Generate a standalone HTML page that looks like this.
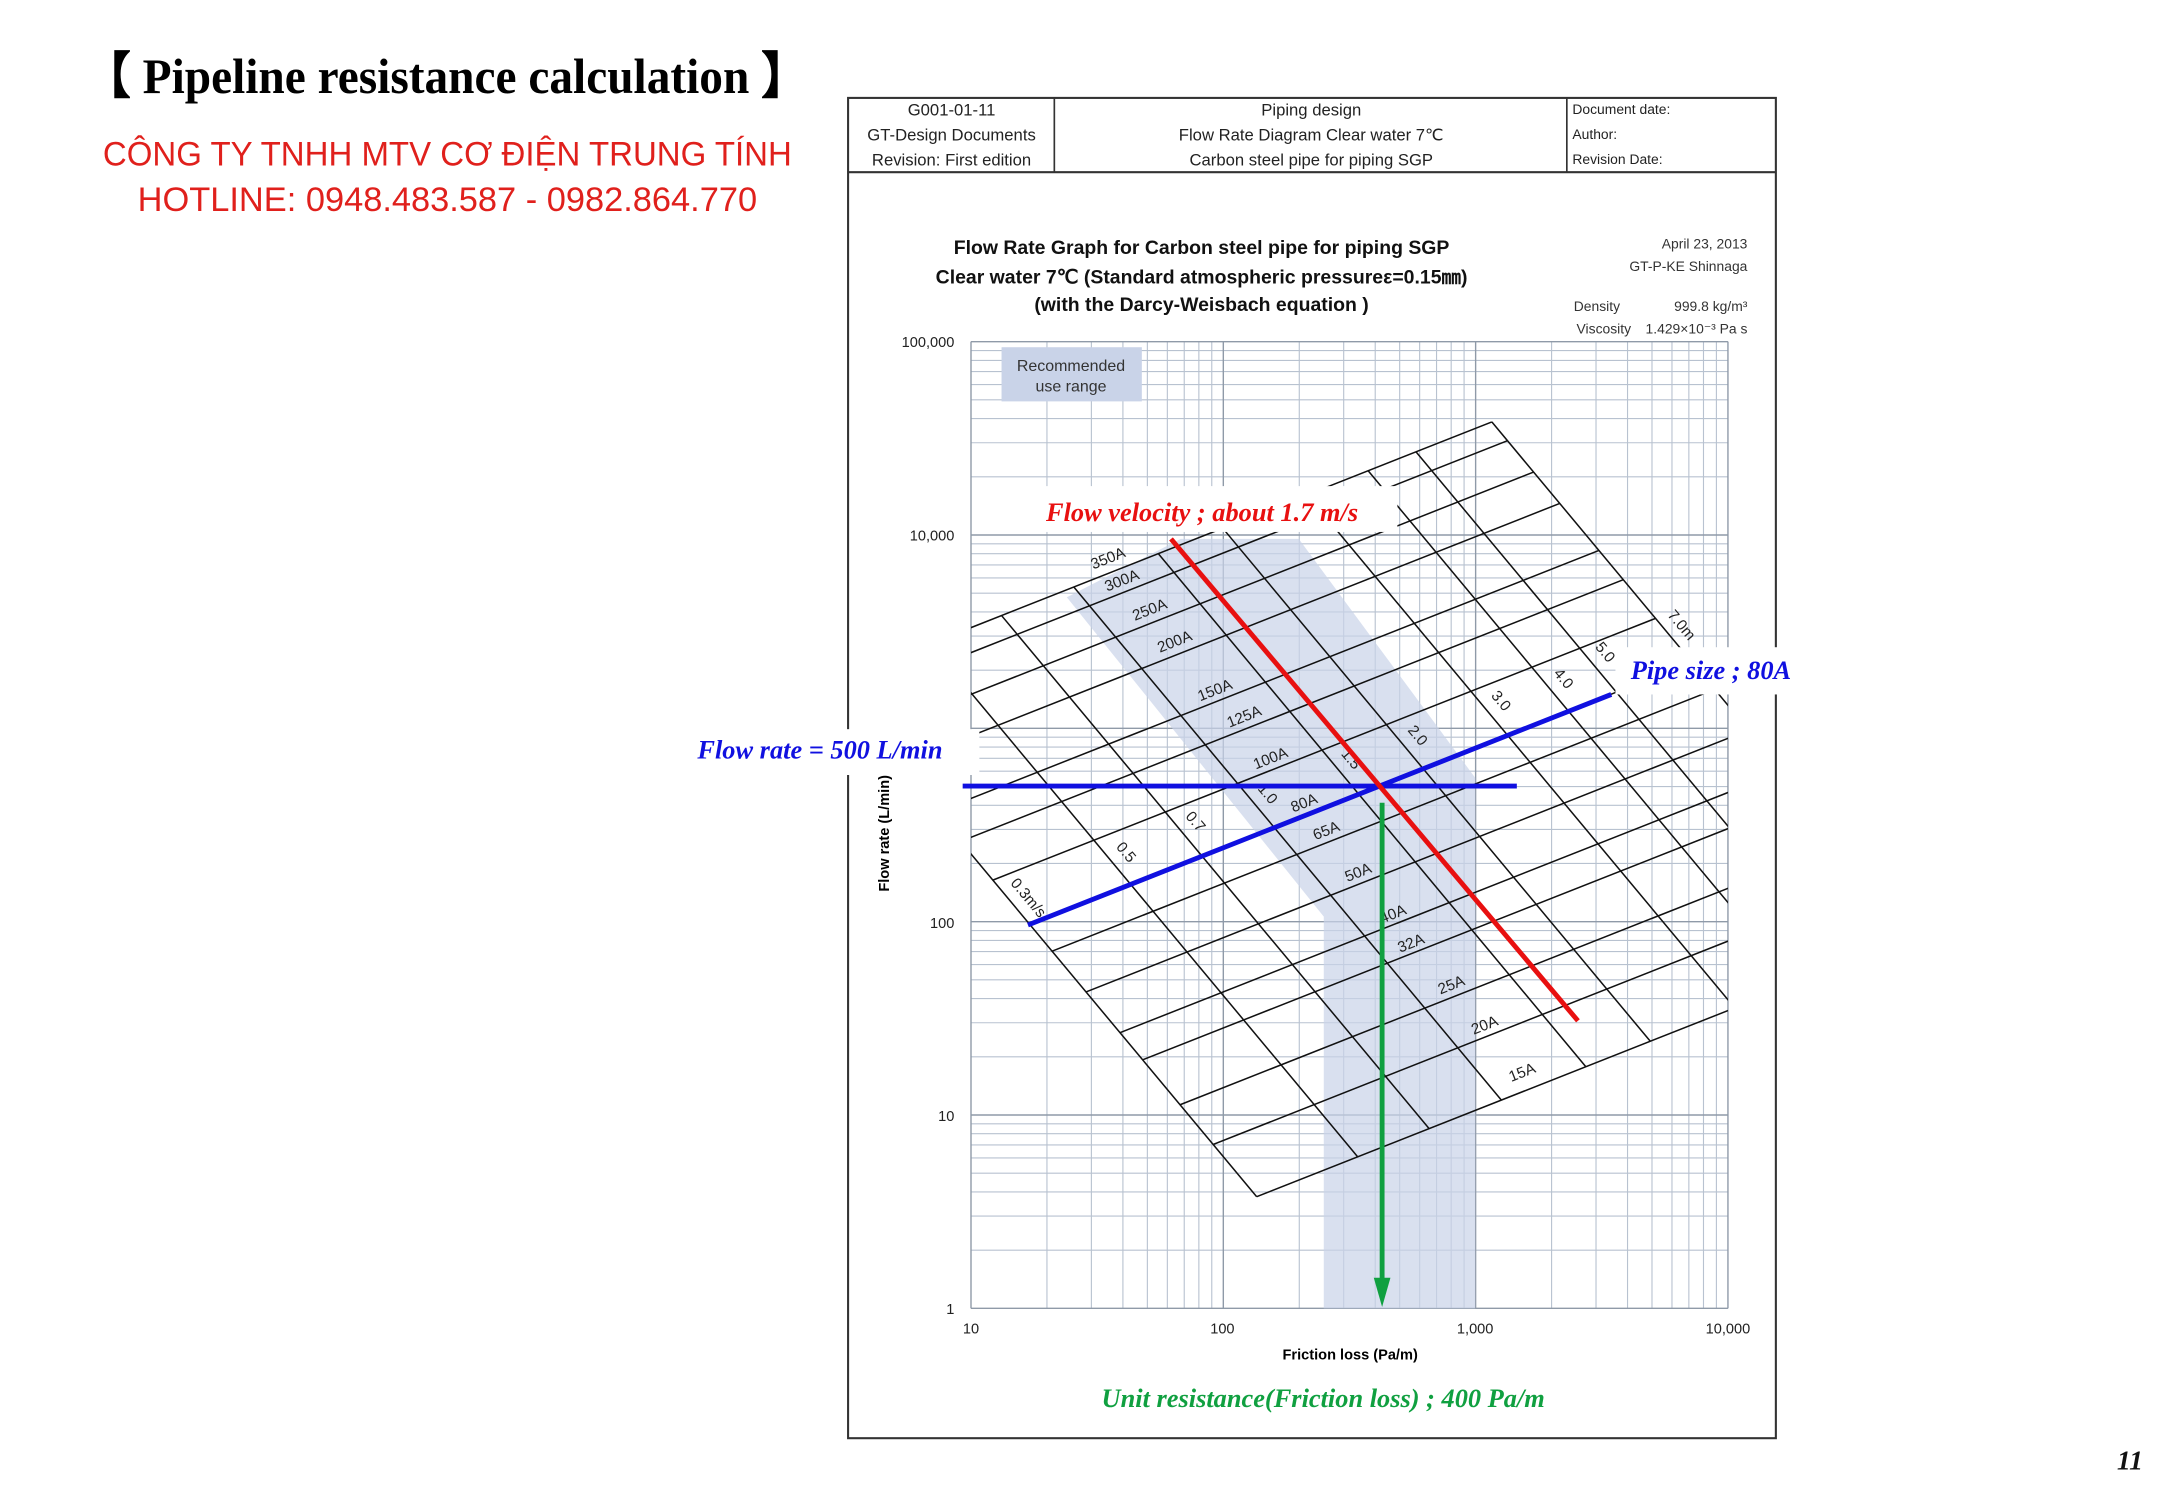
<!DOCTYPE html>
<html><head><meta charset="utf-8"><style>
html,body{margin:0;padding:0;background:#fff;width:2167px;height:1500px;overflow:hidden}
svg{display:block}
</style></head><body>
<svg id="s" width="2167" height="1500" viewBox="0 0 1560 1080" xmlns="http://www.w3.org/2000/svg" font-family="Liberation Sans, sans-serif">
<rect width="1560" height="1080" fill="#fff"/>
<text x="60" y="67" font-family="Liberation Serif, serif" font-weight="bold" font-size="36" textLength="522" lengthAdjust="spacingAndGlyphs">【 Pipeline resistance calculation 】</text>
<text x="322" y="119" fill="#e0201c" font-size="25" text-anchor="middle" textLength="496" lengthAdjust="spacingAndGlyphs">CÔNG TY TNHH MTV CƠ ĐIỆN TRUNG TÍNH</text>
<text x="322" y="152" fill="#e0201c" font-size="25" text-anchor="middle" textLength="446" lengthAdjust="spacingAndGlyphs">HOTLINE: 0948.483.587 - 0982.864.770</text>

<rect x="610.5" y="70.5" width="668" height="965" fill="none" stroke="#333" stroke-width="1.5"/>
<line x1="610" y1="124" x2="1278" y2="124" stroke="#333" stroke-width="1.5"/>
<line x1="759" y1="70" x2="759" y2="124" stroke="#333" stroke-width="1.2"/>
<line x1="1128" y1="70" x2="1128" y2="124" stroke="#333" stroke-width="1.2"/>
<g font-size="12" fill="#222">
<text x="685" y="83" text-anchor="middle">G001-01-11</text>
<text x="685" y="101" text-anchor="middle">GT-Design Documents</text>
<text x="685" y="119" text-anchor="middle">Revision:   First edition</text>
<text x="944" y="83" text-anchor="middle">Piping design</text>
<text x="944" y="101" text-anchor="middle">Flow Rate Diagram     Clear water    7℃</text>
<text x="944" y="119" text-anchor="middle">Carbon steel pipe for piping   SGP</text>
<text x="1132" y="82" font-size="10">Document date:</text>
<text x="1132" y="100" font-size="10">Author:</text>
<text x="1132" y="118" font-size="10">Revision Date:</text>
</g>
<g font-size="14" font-weight="bold" fill="#111" text-anchor="middle">
<text x="865" y="183">Flow Rate Graph for Carbon steel pipe for piping  SGP</text>
<text x="865" y="204">Clear water    7℃    (Standard atmospheric pressureε=0.15㎜)</text>
<text x="865" y="224">(with the Darcy-Weisbach equation )</text>
</g>
<g font-size="10" fill="#333" text-anchor="end">
<text x="1258" y="179">April 23, 2013</text>
<text x="1258" y="195">GT-P-KE  Shinnaga</text>
<text x="1258" y="224">999.8 kg/m³</text>
<text x="1258" y="240">1.429×10⁻³ Pa s</text>
</g>
<text x="1133" y="224" font-size="10" fill="#333">Density</text>
<text x="1135" y="240" font-size="10" fill="#333">Viscosity</text>

<g id="grid"></g>
<rect x="721" y="250" width="101" height="39" fill="#c9d3e8"/>
<text x="771" y="267" font-size="11.5" fill="#333" text-anchor="middle">Recommended</text>
<text x="771" y="282" font-size="11.5" fill="#333" text-anchor="middle">use range</text>
<polygon points="768,430 850,388 935,388 1062,560 1062,942 953,942 953,660" fill="#c9d3e8" opacity="0.7"/>
<defs><clipPath id="cp"><rect x="699" y="246" width="545" height="696"/></clipPath></defs>
<g id="nomo" clip-path="url(#cp)" stroke="#111" stroke-width="1.1"></g>
<g font-size="11" fill="#222" id="lbl"></g>

<g font-size="10.5" fill="#222" text-anchor="end">
<text x="687" y="250">100,000</text><text x="687" y="389">10,000</text>
<text x="687" y="668">100</text><text x="687" y="807">10</text><text x="687" y="946">1</text>
</g>
<g font-size="10.5" fill="#222" text-anchor="middle">
<text x="699" y="960">10</text><text x="880" y="960">100</text><text x="1062" y="960">1,000</text><text x="1244" y="960">10,000</text>
</g>
<text x="972" y="979" font-size="10.5" font-weight="bold" text-anchor="middle">Friction loss (Pa/m)</text>
<text transform="translate(640,600) rotate(-90)" font-size="10.5" font-weight="bold" text-anchor="middle">Flow rate (L/min)</text>

<rect x="700" y="350" width="306" height="33" fill="#fff"/>
<rect x="1163" y="466" width="150" height="34" fill="#fff"/>
<rect x="495" y="525" width="210" height="33" fill="#fff"/>
<line x1="693" y1="566" x2="1092" y2="566" stroke="#1010e0" stroke-width="3.5"/>
<line x1="740" y1="666" x2="1160" y2="500" stroke="#1010e0" stroke-width="3.5"/>
<line x1="843" y1="388" x2="1136" y2="735" stroke="#e81010" stroke-width="3.5"/>
<line x1="995" y1="578" x2="995" y2="925" stroke="#10a040" stroke-width="3.5"/>
<polygon points="989,920 1001,920 995,941" fill="#10a040"/>
<g font-family="Liberation Serif, serif" font-weight="bold" font-style="italic" font-size="19">
<text x="753" y="375" fill="#e81010">Flow velocity ; about 1.7 m/s</text>
<text x="1174" y="489" fill="#1010e0">Pipe size ; 80A</text>
<text x="502" y="546" fill="#1010e0">Flow rate = 500 L/min</text>
<text x="793" y="1013" fill="#10a040">Unit resistance(Friction loss) ; 400 Pa/m</text>
<text x="1524" y="1058" fill="#111" font-size="20">11</text>
</g>
</svg>
<script>
var NS="http://www.w3.org/2000/svg";
function L(g,x1,y1,x2,y2,c,w){var l=document.createElementNS(NS,"line");l.setAttribute("x1",x1);l.setAttribute("y1",y1);l.setAttribute("x2",x2);l.setAttribute("y2",y2);if(c)l.setAttribute("stroke",c);if(w)l.setAttribute("stroke-width",w);g.appendChild(l);}
var g=document.getElementById("grid");
var X0=699,X1=1244,Y0=942,Y1=246,dx=(X1-X0)/3,dy=(Y0-Y1)/5;
for(var d=0;d<5;d++)for(var k=2;k<=9;k++){var y=Y0-(d+Math.log10(k))*dy;L(g,X0,y,X1,y,"#b8c2d0",0.8);}
for(var d=0;d<3;d++)for(var k=2;k<=9;k++){var x=X0+(d+Math.log10(k))*dx;L(g,x,Y1,x,Y0,"#b8c2d0",0.8);}
for(var d=0;d<=5;d++){var y=Y0-d*dy;L(g,X0,y,X1,y,"#8f9aa8",1);}
for(var d=0;d<=3;d++){var x=X0+d*dx;L(g,x,Y1,x,Y0,"#8f9aa8",1);}
var n=document.getElementById("nomo");
var B=[728,746,776,806,851,879,916,958,984,1023,1062,1088,1131,1169,1219];
var C=[-224,-340,-422,-505,-602,-676,-773,-843,-898,-985];
var s1=0.395,s2=1.2;
function ix(b,c){return (b-c)/(s1+s2);}
B.forEach(function(b){var xa=ix(b,C[0]),xb=ix(b,C[C.length-1]);L(n,xa,b-s1*xa,xb,b-s1*xb);});
C.forEach(function(c){var xa=ix(B[0],c),xb=ix(B[B.length-1],c);L(n,xa,c+s2*xa,xb,c+s2*xb);});
var lb=document.getElementById("lbl");
function T(x,y,t,a){var e=document.createElementNS(NS,"text");e.setAttribute("x",x);e.setAttribute("y",y);e.setAttribute("transform","rotate("+a+" "+x+" "+y+")");e.textContent=t;lb.appendChild(e);}
[[787,410,"350A"],[797,426,"300A"],[817,447,"250A"],[835,470,"200A"],[864,505,"150A"],[885,524,"125A"],[904,554,"100A"],[931,585,"80A"],[947,605,"65A"],[970,635,"50A"],[995,665,"40A"],[1008,686,"32A"],[1037,716,"25A"],[1061,745,"20A"],[1088,779,"15A"]].forEach(function(a){T(a[0],a[1],a[2],-21.5);});
[[727,636,"0.3m/s"],[803,610,"0.5"],[853,588,"0.7"],[905,568,"1.0"],[965,543,"1.5"],[1013,526,"2.0"],[1073,501,"3.0"],[1118,485,"4.0"],[1148,466,"5.0"],[1200,443,"7.0m"]].forEach(function(a){T(a[0],a[1],a[2],50);});
</script>
</body></html>
